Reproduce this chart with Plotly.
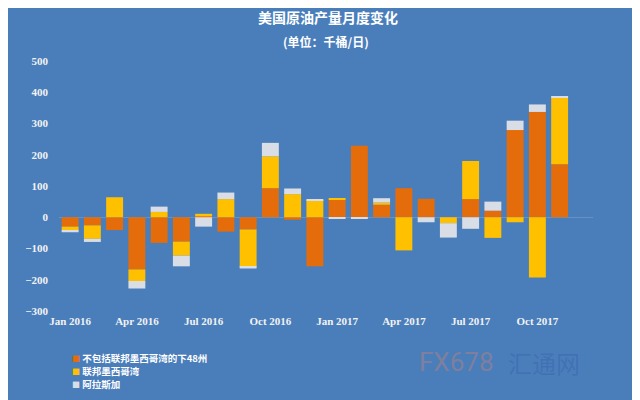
import plotly.graph_objects as go

months = ["Jan 2016", "Feb 2016", "Mar 2016", "Apr 2016", "May 2016", "Jun 2016",
          "Jul 2016", "Aug 2016", "Sep 2016", "Oct 2016", "Nov 2016", "Dec 2016",
          "Jan 2017", "Feb 2017", "Mar 2017", "Apr 2017", "May 2017", "Jun 2017",
          "Jul 2017", "Aug 2017", "Sep 2017", "Oct 2017", "Nov 2017", "Dec 2017"]

lower48 = [-30, -26, -41, -167, -82, -78, 3, -46, -39, 93, -8, -157,
           56, 229, 40, 93, 59, 0, 58, 21, 279, 337, 170, None]
gulf = [-12, -43, 64, -37, 17, -45, 8, 58, -120, 102, 74, 55,
        3, 0, 7, -106, 0, -19, 122, -66, -16, -193, 213, None]
alaska = [-6, -10, 0, -24, 17, -34, -30, 21, -5, 43, 18, 2,
          -4, -5, 14, 0, -16, -46, -37, 29, 30, 24, 3, None]

tick_vals = ["Jan 2016", "Apr 2016", "Jul 2016", "Oct 2016",
             "Jan 2017", "Apr 2017", "Jul 2017", "Oct 2017"]

names = ["不包括联邦墨西哥湾的下48州", "联邦墨西哥湾", "阿拉斯加"]
colors = ["#E46C0A", "#FFC000", "#D9DDE6"]

fig = go.Figure()
for name, vals, col in zip(names, [lower48, gulf, alaska], colors):
    fig.add_trace(go.Bar(x=months, y=vals, name=name, marker_color=col,
                         marker_line_width=0, showlegend=False))

bg = "#4A7EBB"
serif = dict(family="Liberation Serif", size=11, color="#F2F2F2", weight="bold")

# page body adds an 8px offset; positions below are reference pixels
OFF = 8
PT, PB, PL, PR = 61, 311, 59, 593


def px_y(y):
    return (PB - y) / (PB - PT)


def px_x(x):
    return (x - PL) / (PR - PL)


annotations = [
    dict(text="<b>(单位：千桶/日)</b>", xref="paper", yref="paper",
         x=0.5, y=px_y(42), yanchor="middle", showarrow=False,
         font=dict(family="Noto Sans CJK SC", size=12, color="white")),
    dict(text="FX678", xref="paper", yref="paper", x=px_x(496),
         y=px_y(362), yanchor="middle", showarrow=False,
         font=dict(family="Roboto", size=26, color="rgba(210,130,105,0.4)")),
    dict(text="汇通网", xref="paper", yref="paper", x=px_x(582),
         y=px_y(362), yanchor="middle", showarrow=False,
         font=dict(family="Noto Sans CJK SC", size=24, color="rgba(60,105,175,0.6)")),
]
legend_rows = [358, 371, 384]
for name, col, row in zip(names, colors, legend_rows):
    annotations.append(dict(
        text=f'<span style="color:{col};font-size:8px">■</span> {name}',
        xref="paper", yref="paper", x=px_x(71), y=px_y(row),
        xanchor="left", yanchor="middle", align="left", showarrow=False, borderpad=0,
        font=dict(family="Noto Sans CJK SC", size=9.5, color="white", weight="bold")))

fig.update_layout(
    width=640, height=400,
    barmode="relative", bargap=0.24,
    paper_bgcolor=bg, plot_bgcolor=bg,
    margin=dict(l=PL - OFF, r=640 - PR + OFF, t=PT - OFF, b=400 - PB + OFF,
                autoexpand=False),
    title=dict(text="<b>美国原油产量月度变化</b>", x=0.5, xanchor="center",
               y=1 - (18 - OFF) / 400, yanchor="middle",
               font=dict(family="Noto Sans CJK SC", size=14, color="white")),
    annotations=annotations,
    showlegend=False,
)

fig.update_xaxes(type="category", tickvals=tick_vals, ticktext=tick_vals,
                 showgrid=False, showline=False, ticks="", tickfont=serif,
                 tickangle=0, ticklabelstandoff=2, range=[-0.5, 23.5])
fig.update_yaxes(range=[-300, 500], dtick=100, showgrid=False, showline=False,
                 zeroline=True, zerolinecolor="rgba(255,255,255,0.15)", zerolinewidth=1,
                 ticks="", tickfont=serif, ticklabelstandoff=10)

fig.write_html("out.html")
